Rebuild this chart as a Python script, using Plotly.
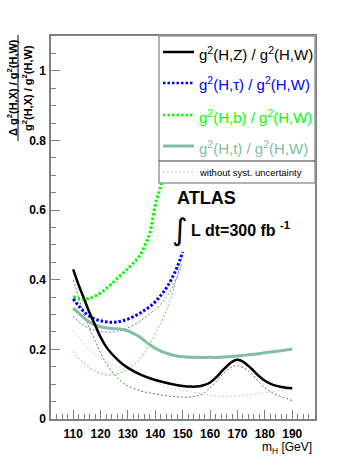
import plotly.graph_objects as go

# Higgs mass points (GeV) and relative coupling-ratio errors
MH_Z = [110, 112, 114, 116, 118, 120, 122, 124, 126, 128, 130, 135, 140, 145, 150, 153,
        156, 158, 160, 162, 165, 168, 170, 172, 175, 178, 180, 183, 186, 190]
HZ = [0.430, 0.385, 0.345, 0.305, 0.270, 0.235, 0.208, 0.188, 0.172, 0.158, 0.147, 0.126,
      0.112, 0.102, 0.095, 0.093, 0.094, 0.098, 0.105, 0.118, 0.143, 0.164, 0.170, 0.165,
      0.145, 0.122, 0.110, 0.098, 0.092, 0.088]
HZ_STAT = [0.400, 0.350, 0.300, 0.260, 0.225, 0.190, 0.160, 0.138, 0.120, 0.105, 0.095,
           0.080, 0.072, 0.066, 0.063, 0.063, 0.068, 0.076, 0.090, 0.106, 0.132, 0.150,
           0.153, 0.148, 0.132, 0.105, 0.090, 0.074, 0.064, 0.053]

MH_LOW = [110, 112, 114, 116, 118, 120, 122, 124, 126, 128, 130, 132, 134, 136, 138, 140,
          142, 144, 146, 148, 150]
HTAU = [0.345, 0.325, 0.308, 0.295, 0.287, 0.282, 0.279, 0.278, 0.279, 0.282, 0.287, 0.294,
        0.302, 0.312, 0.323, 0.337, 0.355, 0.376, 0.403, 0.437, 0.480]
HTAU_STAT = [0.295, 0.280, 0.268, 0.260, 0.255, 0.252, 0.250, 0.250, 0.252, 0.256, 0.262,
             0.270, 0.279, 0.290, 0.302, 0.315, 0.330, 0.350, 0.375, 0.410, 0.450]
HB_STAT = [0.194, 0.175, 0.160, 0.148, 0.138, 0.131, 0.127, 0.127, 0.130, 0.135, 0.143,
           0.155, 0.170, 0.190, 0.215, 0.245, 0.275, 0.310, 0.355, 0.410, 0.470]

MH_B = [110, 112, 114, 116, 118, 120, 122, 124, 126, 128, 130, 132, 134, 136, 138, 140,
        142, 144, 146]
HB = [0.352, 0.346, 0.344, 0.347, 0.353, 0.362, 0.374, 0.388, 0.403, 0.418, 0.432, 0.448,
      0.466, 0.495, 0.535, 0.615, 0.670, 0.735, 0.805]

MH_T = [110, 112, 114, 116, 118, 120, 122, 124, 126, 128, 130, 132, 134, 136, 138, 140,
        142, 144, 146, 148, 150, 155, 160, 163, 165, 170, 175, 180, 185, 190]
HT = [0.318, 0.305, 0.290, 0.278, 0.270, 0.265, 0.262, 0.260, 0.259, 0.257, 0.253, 0.246,
      0.237, 0.225, 0.213, 0.203, 0.195, 0.189, 0.184, 0.181, 0.179, 0.177, 0.177, 0.177,
      0.178, 0.181, 0.185, 0.190, 0.195, 0.201]
HT_STAT = [0.255, 0.235, 0.215, 0.198, 0.185, 0.173, 0.163, 0.156, 0.151, 0.147, 0.143,
           0.138, 0.132, 0.125, 0.117, 0.108, 0.099, 0.093, 0.088, 0.085, 0.082, 0.075,
           0.068, 0.065, 0.064, 0.066, 0.070, 0.075, 0.081, 0.087]

X_TICKS = [110, 120, 130, 140, 150, 160, 170, 180, 190]

FONT = "Liberation Sans"
BLACK, BLUE, GREEN, TEAL = "#000000", "#0000ff", "#00ff00", "#80c0a0"
FRAME = "#808080"

# plot frame in pixels
L, R, T, B = 51, 315, 36, 419


def px(x):
    return (x - L) / (R - L)


def py(y):
    return (B - y) / (B - T)


fig = go.Figure()

thin = [
    (MH_Z, HZ_STAT, "#707070"),
    (MH_LOW, HTAU_STAT, "#7070ff"),
    (MH_LOW, HB_STAT, "#50e050"),
    (MH_T, HT_STAT, "#b4dcc8"),
]
for x, y, c in thin:
    fig.add_trace(go.Scatter(x=x, y=y, mode="lines", line_shape="spline",
                             line=dict(color=c, width=1, dash="2px,2px"),
                             showlegend=False, hoverinfo="skip"))

thick = [
    (MH_T, HT, TEAL, "solid", 3),
    (MH_B, HB, GREEN, "2.5px,2px", 3),
    (MH_LOW, HTAU, BLUE, "2.5px,2px", 3),
    (MH_Z, HZ, BLACK, "solid", 2.5),
]
for x, y, c, d, w in thick:
    fig.add_trace(go.Scatter(x=x, y=y, mode="lines", line_shape="spline",
                             line=dict(color=c, width=w, dash=d),
                             showlegend=False, hoverinfo="skip"))

shapes = []
annotations = []

# legend box (drawn by hand, ROOT style)
shapes.append(dict(type="rect", xref="paper", yref="paper", layer="above",
                   x0=px(159), x1=px(315), y0=py(183), y1=py(36),
                   fillcolor="white", line=dict(color="#999999", width=1.5)))
shapes.append(dict(type="line", xref="paper", yref="paper", layer="above",
                   x0=px(159), x1=px(315), y0=py(161), y1=py(161),
                   line=dict(color="#333333", width=1)))

g2 = "g<sup>2</sup>"
entries = [
    (52, BLACK, "solid", 2.5, f"{g2}(H,Z) / {g2}(H,W)"),
    (83, BLUE, "2.5px,2px", 2.5, f"{g2}(H,τ) / {g2}(H,W)"),
    (115, GREEN, "2.5px,2px", 2.5, f"{g2}(H,b) / {g2}(H,W)"),
    (146, TEAL, "solid", 3, f"{g2}(H,t) / {g2}(H,W)"),
]
for yy, c, d, w, txt in entries:
    shapes.append(dict(type="line", xref="paper", yref="paper", layer="above",
                       x0=px(163), x1=px(194), y0=py(yy), y1=py(yy),
                       line=dict(color=c, width=w, dash=d)))
    annotations.append(dict(xref="paper", yref="paper", x=px(197), y=py(yy + 1),
                            xanchor="left", yanchor="middle", showarrow=False,
                            text=txt, font=dict(family=FONT, size=15, color=c)))

shapes.append(dict(type="line", xref="paper", yref="paper", layer="above",
                   x0=px(163), x1=px(194), y0=py(172), y1=py(172),
                   line=dict(color="#bbbbbb", width=1, dash="2px,2px")))
annotations.append(dict(xref="paper", yref="paper", x=px(197), y=py(172),
                        xanchor="left", yanchor="middle", showarrow=False,
                        text="without syst. uncertainty",
                        font=dict(family=FONT, size=9.5, color="#000000")))

# ATLAS label
annotations.append(dict(xref="paper", yref="paper", x=px(175), y=py(198),
                        xanchor="left", yanchor="middle", showarrow=False,
                        text="<b>ATLAS</b>", font=dict(family=FONT, size=18, color="black")))
annotations.append(dict(xref="paper", yref="paper", x=px(180), y=py(229),
                        xanchor="center", yanchor="middle", showarrow=False,
                        text="∫", font=dict(family="DejaVu Sans", size=30, color="black")))
annotations.append(dict(xref="paper", yref="paper", x=px(189), y=py(229),
                        xanchor="left", yanchor="middle", showarrow=False,
                        text="<b>L dt=300 fb <sup>-1</sup></b>",
                        font=dict(family=FONT, size=16, color="black")))

# y title as a fraction
annotations.append(dict(xref="paper", yref="paper", x=px(12), y=py(88),
                        xanchor="center", yanchor="middle", showarrow=False, textangle=-90,
                        text=f"<b>Δ {g2}(H,X) / {g2}(H,W)</b>",
                        font=dict(family=FONT, size=11, color="black")))
shapes.append(dict(type="line", xref="paper", yref="paper",
                   x0=px(18), x1=px(18), y0=py(141), y1=py(35),
                   line=dict(color="black", width=1)))
annotations.append(dict(xref="paper", yref="paper", x=px(27), y=py(88),
                        xanchor="center", yanchor="middle", showarrow=False, textangle=-90,
                        text=f"<b>{g2}(H,X) / {g2}(H,W)</b>",
                        font=dict(family=FONT, size=11, color="black")))

# x title
annotations.append(dict(xref="paper", yref="paper", x=px(314), y=py(448),
                        xanchor="right", yanchor="middle", showarrow=False,
                        text="m<sub>H</sub> [GeV]",
                        font=dict(family=FONT, size=12, color="black")))

fig.update_layout(
    width=358, height=463,
    margin=dict(l=L, r=358 - R, t=T, b=463 - B),
    paper_bgcolor="white", plot_bgcolor="white",
    showlegend=False,
    shapes=shapes, annotations=annotations,
    xaxis=dict(range=[101.9, 198.3], tickvals=X_TICKS, ticks="inside", ticklen=9,
               tickwidth=1, tickcolor=FRAME, showgrid=False, zeroline=False,
               showline=True, linecolor=FRAME, linewidth=1.5, mirror=True,
               tickfont=dict(family=FONT, size=12, color="black", weight="bold"),
               ticklabelstandoff=3,
               minor=dict(dtick=2, tick0=110, ticks="inside", ticklen=5,
                          tickcolor=FRAME, showgrid=False)),
    yaxis=dict(range=[0, 1.1], dtick=0.2, tick0=0, ticks="inside", ticklen=9,
               tickwidth=1, tickcolor=FRAME, showgrid=False, zeroline=False,
               showline=True, linecolor=FRAME, linewidth=1.5, mirror=True,
               tickfont=dict(family=FONT, size=12, color="black", weight="bold"),
               ticklabelstandoff=1,
               minor=dict(dtick=0.05, tick0=0, ticks="inside", ticklen=5,
                          tickcolor=FRAME, showgrid=False)),
)

# the page body has a default 8px margin; remove it so the figure sits at the origin
fig.write_html("out.html", config={"displayModeBar": False},
               post_script="document.body.style.margin='0';")
